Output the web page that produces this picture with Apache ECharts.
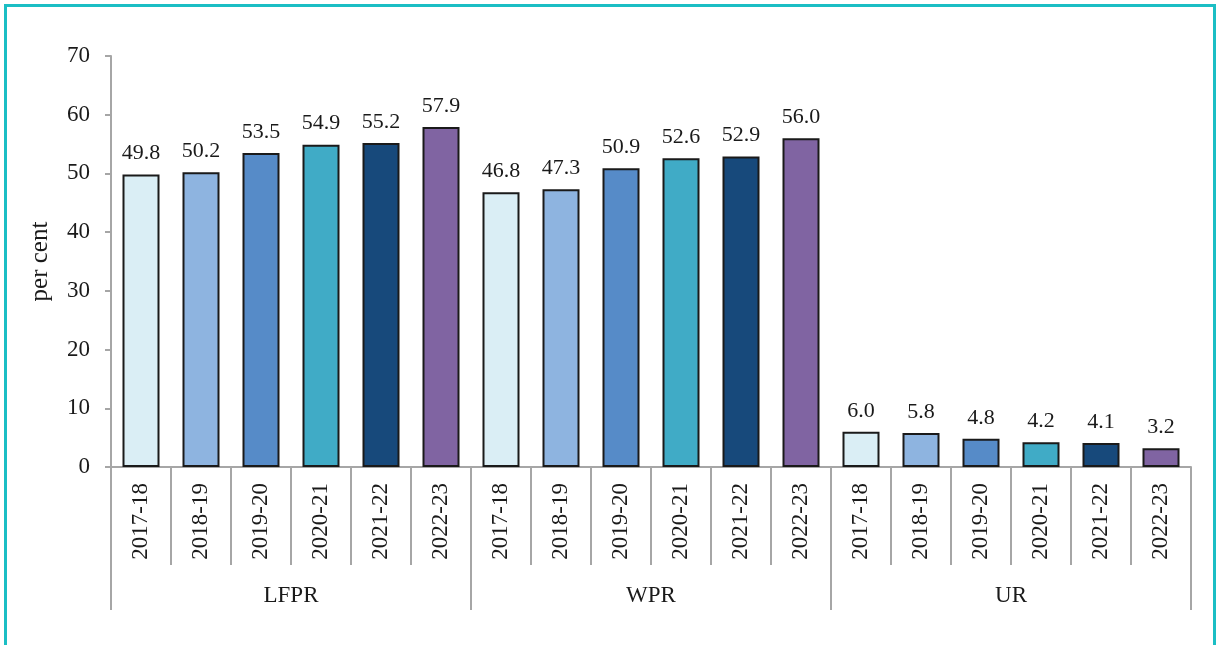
<!DOCTYPE html>
<html>
<head>
<meta charset="utf-8">
<script src="https://cdn.jsdelivr.net/npm/echarts@6/dist/echarts.min.js"></script>
<style>
  html, body { margin: 0; padding: 0; background: #fff; }
  #chart { width: 1219px; height: 645px; }
</style>
</head>
<body>
<div id="chart"></div>
<script>
// Indicator groups and survey years
const groups = ['LFPR', 'WPR', 'UR'];
const years = ['2017-18', '2018-19', '2019-20', '2020-21', '2021-22', '2022-23'];

// Values per indicator (per cent)
const lfpr = [49.8, 50.2, 53.5, 54.9, 55.2, 57.9];
const wpr = [46.8, 47.3, 50.9, 52.6, 52.9, 56.0];
const ur = [6.0, 5.8, 4.8, 4.2, 4.1, 3.2];

// y-axis ticks
const yTicks = [0, 10, 20, 30, 40, 50, 60, 70];

// One colour per year
const yearColors = ['#DAEEF5', '#8EB4E0', '#568BC8', '#40ABC6', '#17497B', '#8064A2'];

const serif = '"Liberation Serif", "Times New Roman", serif';

const categories = [];
const barData = [];
[lfpr, wpr, ur].forEach(function (vals) {
  vals.forEach(function (v, i) {
    categories.push(years[i]);
    barData.push({ value: v, itemStyle: { color: yearColors[i] } });
  });
});

const chart = echarts.init(document.getElementById('chart'), null, { renderer: 'canvas' });

chart.setOption({
  animation: false,
  backgroundColor: '#fff',
  graphic: [{
    type: 'rect',
    shape: { x: 5.5, y: 5.5, width: 1209, height: 700 },
    style: { fill: 'none', stroke: '#1BBEC4', lineWidth: 3 },
    silent: true
  }],
  grid: { left: 111, right: 28, top: 56, bottom: 178, containLabel: false },
  xAxis: [{
    type: 'category',
    data: categories,
    axisLine: { show: true, lineStyle: { color: '#A6A6A6', width: 2 } },
    axisTick: { show: true, interval: 0, length: 98, lineStyle: { color: '#A6A6A6', width: 2 } },
    axisLabel: {
      interval: 0, rotate: 90, margin: 16,
      fontFamily: serif, fontSize: 23, color: '#1a1a1a'
    }
  }, {
    type: 'category',
    data: groups,
    position: 'bottom',
    offset: 98,
    axisLine: { show: false },
    axisTick: { show: true, interval: 0, length: 45, lineStyle: { color: '#A6A6A6', width: 2 } },
    axisLabel: {
      interval: 0, margin: 19,
      fontFamily: serif, fontSize: 23, color: '#1a1a1a'
    }
  }],
  yAxis: {
    type: 'value',
    min: yTicks[0],
    max: yTicks[yTicks.length - 1],
    interval: 10,
    name: 'per cent',
    nameLocation: 'middle',
    nameRotate: 90,
    nameGap: 58,
    nameTextStyle: { fontFamily: serif, fontSize: 25, color: '#1a1a1a' },
    axisLine: { show: true, lineStyle: { color: '#A6A6A6', width: 2 } },
    axisTick: { show: true, length: 6, lineStyle: { color: '#A6A6A6', width: 2 } },
    splitLine: { show: false },
    axisLabel: { margin: 21, fontFamily: serif, fontSize: 23, color: '#1a1a1a' }
  },
  series: [{
    type: 'bar',
    xAxisIndex: 0,
    data: barData,
    barWidth: 37,
    itemStyle: { borderColor: '#1a1a1a', borderWidth: 2 },
    label: {
      show: true,
      position: 'top',
      distance: 10,
      fontFamily: serif,
      fontSize: 22,
      color: '#1a1a1a',
      formatter: function (p) { return p.value.toFixed(1); }
    }
  }]
});
</script>
</body>
</html>
